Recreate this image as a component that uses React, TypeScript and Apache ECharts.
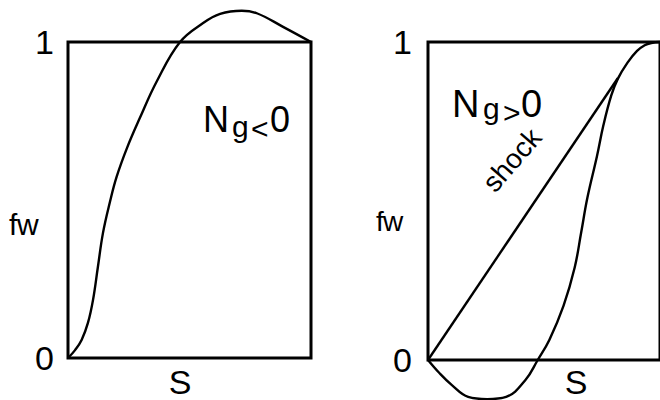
import { useEffect, useRef } from "react";
import * as echarts from "echarts";

// Tick labels shared by both fractional-flow panels
const yTicks = ["0", "1"];

// Left panel: fractional flow curve for Ng < 0 (overshoots f = 1)
const leftS = [0, 0.029, 0.056, 0.082, 0.103, 0.123, 0.144, 0.173, 0.2, 0.243, 0.296, 0.365, 0.461, 0.556, 0.626, 0.715, 0.777, 0.885, 1];
const leftFw = [0, 0.025, 0.057, 0.111, 0.184, 0.288, 0.396, 0.495, 0.573, 0.665, 0.76, 0.875, 1.0, 1.06, 1.089, 1.099, 1.091, 1.048, 1];

// Right panel: fractional flow curve for Ng > 0 (dips below f = 0)
const rightS = [0, 0.049, 0.103, 0.173, 0.255, 0.337, 0.42, 0.473, 0.523, 0.584, 0.632, 0.66, 0.687, 0.728, 0.756, 0.79, 0.818, 0.86, 0.901, 0.934, 0.963, 1];
const rightFw = [0, -0.041, -0.079, -0.116, -0.123, -0.116, -0.063, 0, 0.063, 0.17, 0.29, 0.4, 0.51, 0.64, 0.738, 0.832, 0.884, 0.935, 0.972, 0.99, 0.997, 1];

// Shock: tangent from the origin to the right curve
const shockS = [0, 0.818];
const shockFw = [0, 0.886];

const FONT = "'Liberation Sans', Arial, sans-serif";

const zip = (xs: number[], ys: number[]) => xs.map((x, i) => [x, ys[i]]);

const curve = (axis: number, data: number[][]) => ({
  type: "line",
  xAxisIndex: axis,
  yAxisIndex: axis,
  data,
  smooth: 0.4,
  symbol: "none",
  clip: false,
  silent: true,
  lineStyle: { color: "#000", width: 2.4 },
});

const text = (t: string, x: number, y: number, size: number, align = "left", rotation = 0) => ({
  type: "text",
  x,
  y,
  rotation,
  silent: true,
  style: {
    text: t,
    fontSize: size,
    fontFamily: FONT,
    fill: "#000",
    align,
    verticalAlign: "middle",
    lineHeight: Math.round(size * 0.78),
  },
});

export default function App() {
  const ref = useRef<HTMLDivElement>(null);

  useEffect(() => {
    const chart = echarts.init(ref.current!, null, { renderer: "svg" });

    const xAxis = (gridIndex: number) => ({
      type: "value",
      gridIndex,
      min: 0,
      max: 1,
      axisLine: { show: false },
      axisTick: { show: false },
      axisLabel: { show: false },
      splitLine: { show: false },
    });

    const yAxis = (gridIndex: number, margin: number) => ({
      type: "value",
      gridIndex,
      min: 0,
      max: 1,
      interval: 1,
      axisLine: { show: false },
      axisTick: { show: false },
      splitLine: { show: false },
      axisLabel: {
        margin,
        fontSize: 34,
        color: "#000",
        fontFamily: FONT,
        formatter: (v: number) => yTicks[v],
      },
    });

    const border = { show: true, borderColor: "#000", borderWidth: 3, backgroundColor: "transparent" };

    chart.setOption({
      animation: false,
      backgroundColor: "#fff",
      grid: [
        { left: 68, top: 42, width: 243, height: 316, ...border },
        { left: 428, top: 42, width: 244, height: 318, ...border },
      ],
      xAxis: [xAxis(0), xAxis(1)],
      yAxis: [yAxis(0, 14), yAxis(1, 16)],
      series: [
        curve(0, zip(leftS, leftFw)),
        curve(1, zip(rightS, rightFw)),
        curve(1, zip(shockS, shockFw)),
      ],
      graphic: [
        // left panel labels
        text("f", 9, 224, 30),
        text("w", 17, 224, 30),
        text("S", 180, 382, 34, "center"),
        text("N", 203, 119, 36),
        text("g", 232, 126, 30),
        text("<", 251, 128, 30),
        text("0", 270, 119, 36),
        // right panel labels
        text("f", 376, 221, 28),
        text("w", 383, 221, 28),
        text("S", 576, 382, 34, "center"),
        text("N", 452, 104, 38),
        text("g", 483, 108, 30),
        text(">", 503, 112, 30),
        text("0", 521, 104, 38),
        text("shock", 512, 160, 28, "center", (49 * Math.PI) / 180),
      ],
    });

    return () => chart.dispose();
  }, []);

  return <div ref={ref} style={{ position: "absolute", left: 0, top: 0, width: 660, height: 400 }} />;
}
